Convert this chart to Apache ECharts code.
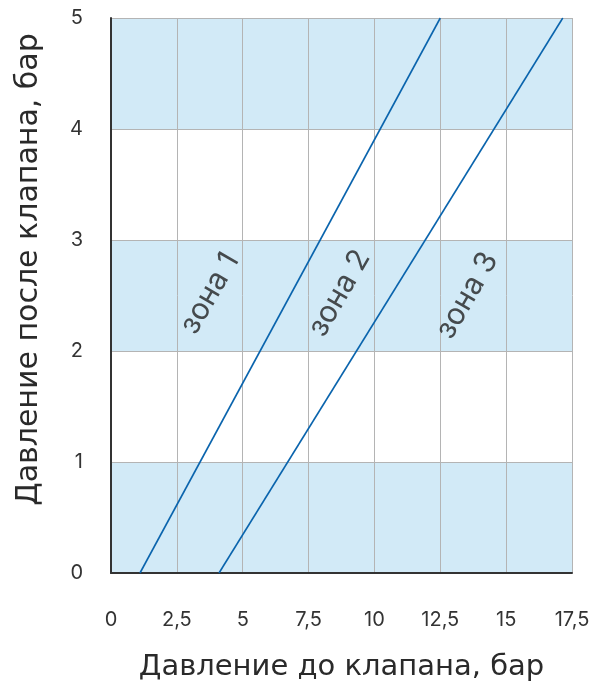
<!DOCTYPE html>
<html><head><meta charset="utf-8">
<script src="https://cdn.jsdelivr.net/npm/echarts@6/dist/echarts.min.js"></script>
<style>html,body{margin:0;padding:0;background:#fff}#c{width:596px;height:688px}</style>
</head><body><div id="c"></div>
<script>
const xTicks = [0, 2.5, 5, 7.5, 10, 12.5, 15, 17.5];
const yTicks = [0, 1, 2, 3, 4, 5];
const bands = [[0, 1], [2, 3], [4, 5]];
const line1 = [[1.1, 0], [12.5, 5]];
const line2 = [[4.1, 0], [17.15, 5]];
const zoneLabels = ['зона 1', 'зона 2', 'зона 3'];
const zonePos = [[3.75, 2.52], [8.67, 2.52], [13.52, 2.5]];

const font = 'Inter, Roboto, sans-serif';
const nameFont = '"DejaVu Sans", sans-serif';
const chart = echarts.init(document.getElementById('c'));
const fmt = v => String(v).replace('.', ',');
chart.setOption({
  animation: false,
  grid: {left: 111, right: 24, top: 18, bottom: 115, outerBoundsMode: 'none', containLabel: false},
  xAxis: {
    type: 'value', min: 0, max: 17.5, interval: 2.5, z: 3,
    name: 'Давление до клапана, бар', nameLocation: 'middle', nameGap: 80,
    nameTextStyle: {fontSize: 29, color: '#2a2a2a', fontFamily: nameFont},
    axisLine: {show: true, onZero: false, lineStyle: {color: '#333', width: 2}},
    axisTick: {show: false},
    axisLabel: {fontSize: 20, color: '#333', margin: 37, fontFamily: font, formatter: fmt},
    splitLine: {show: true, lineStyle: {color: '#b4b4b4', width: 1}}
  },
  yAxis: {
    type: 'value', min: 0, max: 5, interval: 1, z: 3,
    name: 'Давление после клапана, бар', nameLocation: 'middle', nameGap: 67,
    nameTextStyle: {fontSize: 30, color: '#2a2a2a', fontFamily: nameFont, padding: [0, 0, 0, 52]},
    axisLine: {show: true, onZero: false, lineStyle: {color: '#333', width: 2}},
    axisTick: {show: false},
    axisLabel: {fontSize: 20, color: '#333', margin: 28, fontFamily: font},
    splitLine: {show: true, lineStyle: {color: '#b4b4b4', width: 1}}
  },
  series: [
    {
      type: 'line', data: [], z: -1,
      markArea: {
        silent: true, z: -1,
        itemStyle: {color: '#d2eaf7'},
        data: bands.map(b => [{yAxis: b[0]}, {yAxis: b[1]}])
      }
    },
    {type: 'line', data: line1, symbol: 'none', z: 5, lineStyle: {color: '#0a64ad', width: 1.6}},
    {type: 'line', data: line2, symbol: 'none', z: 5, lineStyle: {color: '#0a64ad', width: 1.6}},
    {
      type: 'scatter', symbolSize: 0, z: 6,
      data: zonePos.map((p, i) => ({value: p, name: zoneLabels[i]})),
      label: {show: true, position: 'inside', formatter: p => p.name, rotate: 60,
        fontSize: 30, color: '#222', fontFamily: font}
    }
  ]
});
</script></body></html>
